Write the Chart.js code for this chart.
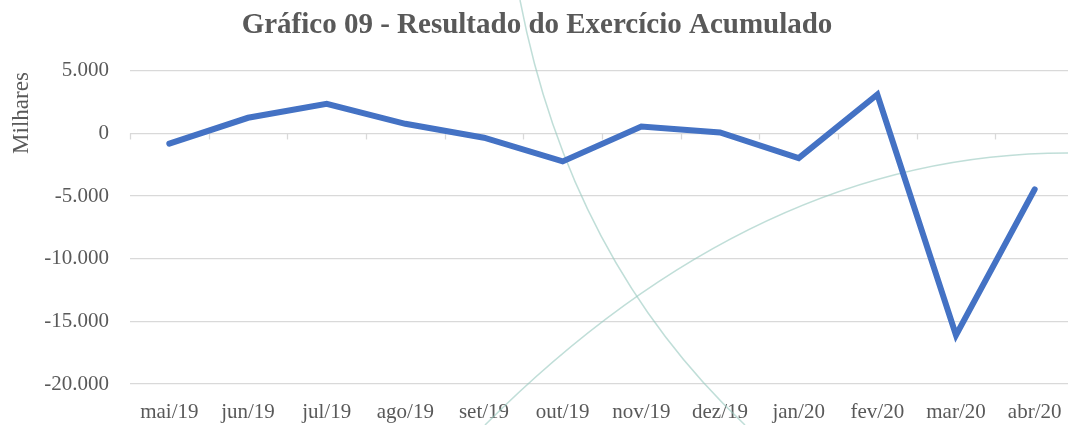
<!DOCTYPE html>
<html>
<head>
<meta charset="utf-8">
<script src="https://cdn.jsdelivr.net/npm/chart.js@4/dist/chart.umd.min.js"></script>
<style>
  html, body { margin: 0; padding: 0; background: #fff; overflow: hidden; }
  #wrap { width: 1074px; height: 425px; }
</style>
</head>
<body>
<div id="wrap"><canvas id="chart"></canvas></div>
<script>
// ===== Dados =====
const meses = ['mai/19', 'jun/19', 'jul/19', 'ago/19', 'set/19', 'out/19',
               'nov/19', 'dez/19', 'jan/20', 'fev/20', 'mar/20', 'abr/20'];
const resultado = [-820, 1250, 2370, 770, -340, -2230, 560, 80, -1970, 3110, -16100, -4470];
const yTicks = [5000, 0, -5000, -10000, -15000, -20000];

const grey = '#595959';
const serif = "'Liberation Serif', 'Times New Roman', serif";

function fmt(v) {
    return v.toLocaleString('pt-BR');
}

// arcos decorativos do fundo, marcas do eixo em 0 e rótulo "Milhares"
const extras = {
    id: 'extras',
    beforeDatasetsDraw(chart) {
        const c = chart.ctx;
        const x = chart.scales.x;
        const y0 = chart.scales.y.getPixelForValue(0);
        c.save();
        c.strokeStyle = 'rgba(150, 200, 190, 0.6)';
        c.lineWidth = 1.5;
        c.beginPath();
        c.moveTo(520, 0);
        c.quadraticCurveTo(570, 260, 745, 425);
        c.stroke();
        c.beginPath();
        c.moveTo(485, 425);
        c.quadraticCurveTo(760, 150, 1074, 153);
        c.stroke();

        // marcas entre categorias sobre a linha do zero
        c.strokeStyle = '#d9d9d9';
        c.lineWidth = 1.3;
        const n = meses.length;
        const step = x.getPixelForTick(1) - x.getPixelForTick(0);
        for (let i = 0; i <= n; i++) {
            const px = Math.round(x.getPixelForTick(0) + (i - 0.5) * step) + 0.5;
            c.beginPath();
            c.moveTo(px, y0);
            c.lineTo(px, y0 + 6);
            c.stroke();
        }
        c.restore();
    },
    afterDraw(chart) {
        const c = chart.ctx;
        c.save();
        c.translate(22, 113);
        c.rotate(-Math.PI / 2);
        c.font = '23px ' + serif;
        c.fillStyle = grey;
        c.textAlign = 'center';
        c.textBaseline = 'middle';
        c.fillText('Milhares', 0, 0);
        c.restore();
    }
};

new Chart(document.getElementById('chart'), {
    type: 'line',
    data: {
        labels: meses,
        datasets: [{
            data: resultado,
            borderColor: '#4472C4',
            borderWidth: 6,
            pointRadius: 0,
            tension: 0,
            borderJoinStyle: 'miter',
            borderCapStyle: 'round'
        }]
    },
    options: {
        responsive: true,
        maintainAspectRatio: false,
        animation: false,
        layout: { padding: 0 },
        plugins: {
            legend: { display: false },
            tooltip: { enabled: false },
            title: {
                display: true,
                text: 'Gráfico 09 - Resultado do Exercício Acumulado',
                color: grey,
                font: { family: serif, size: 29, weight: 'bold' },
                padding: { top: 8, bottom: 28 }
            }
        },
        scales: {
            x: {
                offset: true,
                afterFit(scale) { scale.height = 41; },
                grid: { display: false },
                border: { display: false },
                ticks: {
                    color: grey,
                    padding: 8,
                    maxRotation: 0,
                    autoSkip: false,
                    font: { family: serif, size: 21 }
                }
            },
            y: {
                min: -20000,
                max: 5000,
                afterFit(scale) { scale.width = 130; },
                afterBuildTicks(scale) {
                    scale.ticks = yTicks.map(v => ({ value: v }));
                },
                grid: { color: '#d9d9d9', lineWidth: 1.3, drawTicks: false },
                border: { display: false },
                ticks: {
                    color: grey,
                    padding: 21,
                    font: { family: serif, size: 21 },
                    callback: v => fmt(v)
                }
            }
        }
    },
    plugins: [extras]
});
</script>
</body>
</html>
